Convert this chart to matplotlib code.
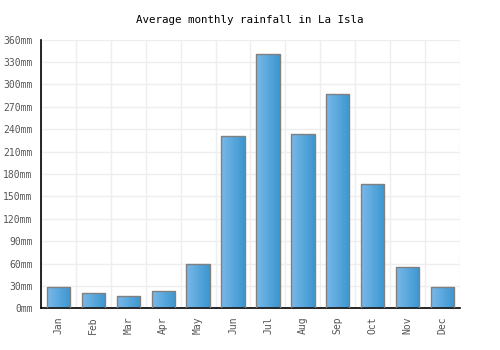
import numpy as np
import matplotlib
matplotlib.use("Agg")
import matplotlib.pyplot as plt
from matplotlib.colors import LinearSegmentedColormap

months = ["Jan", "Feb", "Mar", "Apr", "May", "Jun",
          "Jul", "Aug", "Sep", "Oct", "Nov", "Dec"]
rainfall = [28, 21, 16, 23, 59, 231, 340, 233, 287, 166, 55, 28]
yticks = list(range(0, 361, 30))

plt.rcParams['font.family'] = ['DejaVu Sans Mono']

fig = plt.figure(figsize=(5, 3.5), dpi=100)
ax = fig.add_axes([0.082, 0.119, 0.838, 0.768])

x = np.arange(len(months))
bars = ax.bar(x, rainfall, width=0.67, color='none', edgecolor='#808080',
              linewidth=1.0, zorder=3)

# horizontal gradient inside each bar
cmap = LinearSegmentedColormap.from_list("bar", ["#7ab8ea", "#3a97cf"])
grad = np.linspace(0, 1, 64).reshape(1, -1)
for b in bars:
    bx, by = b.get_x(), b.get_y()
    im = ax.imshow(grad, cmap=cmap, aspect='auto', zorder=2,
                   extent=[bx, bx + b.get_width(), by, by + b.get_height()])
    im.set_clip_path(b)

ax.set_xlim(-0.5, 11.5)
ax.set_ylim(0, 360)

ax.set_yticks(yticks)
ax.set_yticklabels([f"{v}mm" for v in yticks])
ax.set_xticks(x)
ax.set_xticklabels(months, rotation=90)
ax.set_xticks(np.arange(-0.5, 12, 1), minor=True)
ax.tick_params(which='both', length=0, labelsize=7, labelcolor='#555555')
ax.tick_params(axis='y', pad=6)
ax.tick_params(axis='x', pad=6)

ax.grid(axis='y', which='major', color='#eeeeee', linewidth=1, zorder=0)
ax.grid(axis='x', which='minor', color='#eeeeee', linewidth=1, zorder=0)
ax.set_axisbelow(True)

for s in ['top', 'right']:
    ax.spines[s].set_visible(False)
for s in ['left', 'bottom']:
    ax.spines[s].set_color('black')
    ax.spines[s].set_linewidth(1.2)

fig.text(0.5, 0.943, "Average monthly rainfall in La Isla", ha='center',
         va='center', fontsize=7.8, color='black')

fig.savefig("out.png", dpi=100)
